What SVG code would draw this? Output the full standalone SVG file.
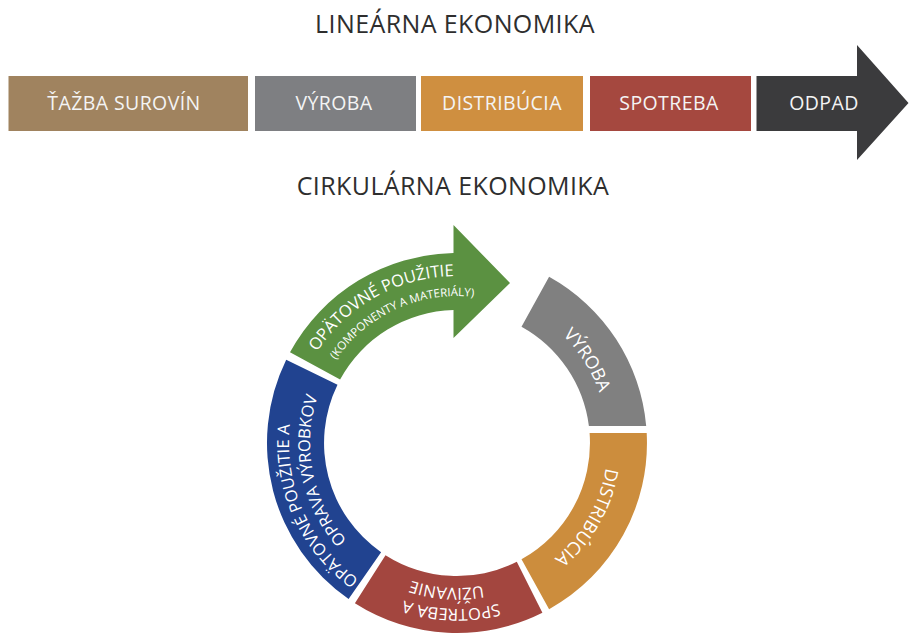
<svg xmlns="http://www.w3.org/2000/svg" width="909" height="634" viewBox="0 0 909 634">
<style>
.title{font-family:"Open Sans","Noto Sans","Liberation Sans",sans-serif;font-size:25px;letter-spacing:0.4px;fill:#2e2e2e;text-anchor:middle}
.bt{font-family:"Open Sans","Noto Sans","Liberation Sans",sans-serif;font-size:19.5px;letter-spacing:0.4px;fill:#f4f4f4;text-anchor:middle}
.rt{font-family:"Open Sans","Noto Sans","Liberation Sans",sans-serif;font-size:18px;fill:#ffffff;text-anchor:middle}
.rt2{font-family:"Open Sans","Noto Sans","Liberation Sans",sans-serif;font-size:16.5px;fill:#ffffff;text-anchor:middle}
.rts{font-family:"Open Sans","Noto Sans","Liberation Sans",sans-serif;font-size:11.5px;fill:#ffffff;text-anchor:middle}
</style>
<defs>
<path id="pVyroba" d="M 450.41 292.14 A 151 151 0 0 1 590.94 512.72"/>
<path id="pDistr" d="M 587.37 366.82 A 151 151 0 0 1 457.79 594.0"/>
<path id="pRed1" d="M 597.78 530.97 A 166 166 0 0 1 310.43 520.93"/>
<path id="pRed2" d="M 577.21 524.08 A 145 145 0 0 1 326.68 506.56"/>
<path id="pBlue1" d="M 439.44 610.08 A 168 168 0 0 1 321.08 344.25"/>
<path id="pBlue2" d="M 410.36 582.40 A 147 147 0 0 1 359.59 332.90"/>
<path id="pGreen1" d="M 290.03 440.09 A 167 167 0 0 1 543.01 299.85"/>
<path id="pGreen2" d="M 310.68 428.91 A 147 147 0 0 1 542.36 323.32"/>
</defs>
<rect width="909" height="634" fill="#ffffff"/>
<text class="title" x="455" y="33">LINEÁRNA EKONOMIKA</text>
<text class="title" x="453" y="195">CIRKULÁRNA EKONOMIKA</text>
<g id="linear-tazba">
<rect x="8.5" y="76" width="239.5" height="55" fill="#A0835F"/>
<text class="bt" x="124" y="110">ŤAŽBA SUROVÍN</text>
</g>
<g id="linear-vyroba">
<rect x="255" y="76" width="161" height="55" fill="#7E7F82"/>
<text class="bt" x="334" y="110">VÝROBA</text>
</g>
<g id="linear-distribucia">
<rect x="421" y="76" width="162" height="55" fill="#CF8F40"/>
<text class="bt" x="502" y="110">DISTRIBÚCIA</text>
</g>
<g id="linear-spotreba">
<rect x="590" y="76" width="161" height="55" fill="#A5483F"/>
<text class="bt" x="669" y="110">SPOTREBA</text>
</g>
<g id="linear-odpad">
<path d="M 756.5 76 L 857 76 L 857 45 L 908.5 103 L 857 160 L 857 131 L 756.5 131 Z" fill="#3B3B3D"/>
<text class="bt" x="824" y="110">ODPAD</text>
</g>
<g id="circ-vyroba">
<path d="M 549.1 276.8 A 190 190 0 0 1 646.2 426 L 588.9 426 A 133 133 0 0 0 521.5 326.7 Z" fill="#808080"/>
<text class="rt"><textPath href="#pVyroba" startOffset="50%">VÝROBA</textPath></text>
</g>
<g id="circ-distribucia">
<path d="M 646.7 433 A 190 190 0 0 1 549.1 609.2 L 521.5 559.3 A 133 133 0 0 0 589.6 433 Z" fill="#CC8D3D"/>
<text class="rt"><textPath href="#pDistr" startOffset="50%">DISTRIBÚCIA</textPath></text>
</g>
<g id="circ-spotreba">
<path d="M 542.4 612.7 A 190 190 0 0 1 354.9 603.2 L 385.5 555.2 A 133 133 0 0 0 516.8 561.8 Z" fill="#A3463F"/>
<text class="rt2"><textPath href="#pRed1" startOffset="50%">SPOTREBA A</textPath></text>
<text class="rt2"><textPath href="#pRed2" startOffset="50%">UŽÍVANIE</textPath></text>
</g>
<g id="circ-oprava">
<path d="M 348.6 599.0 A 190 190 0 0 1 286.2 359.7 L 337.5 384.7 A 133 133 0 0 0 381.1 552.2 Z" fill="#214390"/>
<text class="rt2"><textPath href="#pBlue1" startOffset="50%">OPÄTOVNÉ POUŽITIE A</textPath></text>
<text class="rt2"><textPath href="#pBlue2" startOffset="50%">OPRAVA VÝROBKOV</textPath></text>
</g>
<g id="circ-pouzitie">
<path d="M 290.0 352.3 A 190 190 0 0 1 453.5 253.0 L 453.5 225 L 510 283 L 453.5 338 L 453.5 310 A 133 133 0 0 0 340.1 379.5 Z" fill="#5B9141"/>
<text class="rt2"><textPath href="#pGreen1" startOffset="50%">OPÄTOVNÉ POUŽITIE</textPath></text>
<text class="rts"><textPath href="#pGreen2" startOffset="50%">(KOMPONENTY A MATERIÁLY)</textPath></text>
</g>
<g id="connectors"/>
</svg>
